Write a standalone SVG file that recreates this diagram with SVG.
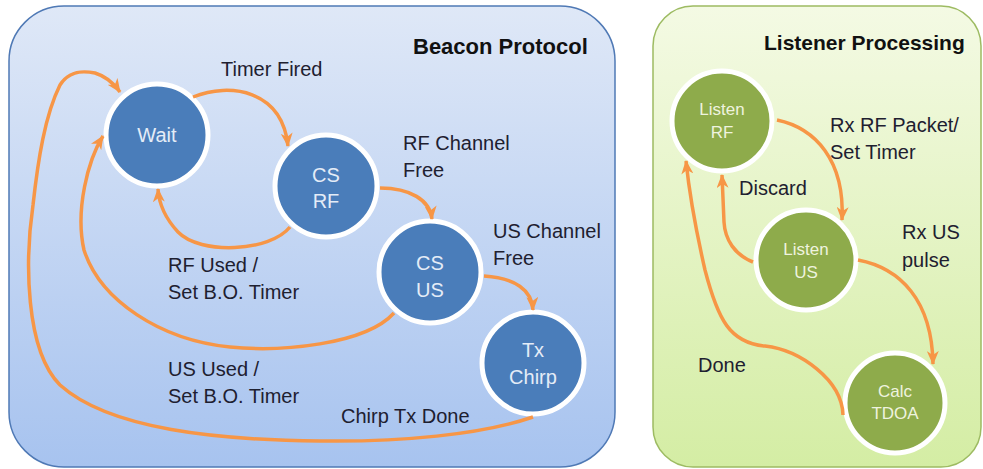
<svg xmlns="http://www.w3.org/2000/svg" width="983" height="469" viewBox="0 0 983 469">
<defs>
<linearGradient id="gBlue" x1="0" y1="0" x2="0" y2="1">
<stop offset="0" stop-color="#dfe8f7"/>
<stop offset="1" stop-color="#a7c3ef"/>
</linearGradient>
<linearGradient id="gGreen" x1="0" y1="0" x2="0" y2="1">
<stop offset="0" stop-color="#f4fae4"/>
<stop offset="1" stop-color="#d4eda4"/>
</linearGradient>
<marker id="ah" viewBox="0 0 14 12" refX="13" refY="6" markerWidth="14" markerHeight="12" orient="auto" markerUnits="userSpaceOnUse">
<path d="M0,0 L14,6 L0,12 L4,6 z" fill="#f79646"/>
</marker>
<style>
text{font-family:"Liberation Sans",Arial,sans-serif}
.title{font-size:22px;font-weight:bold;fill:#111}
.lbl{font-size:20px;fill:#1e2030}
.bn{fill:#4a7dba;stroke:#fff;stroke-width:5}
.gn{fill:#8eab4b;stroke:#fff;stroke-width:5}
.bt{font-size:20px;fill:#e4ecf7;text-anchor:middle}
.gt{font-size:17px;fill:#eef3df;text-anchor:middle}
.c{fill:none;stroke:#f79646;stroke-width:3.5;marker-end:url(#ah)}
</style>
</defs>
<g id="panel-beacon">
<rect x="9" y="6" width="606" height="461" rx="55" fill="url(#gBlue)" stroke="#4f79b5" stroke-width="1.5"/>
<text class="title" x="413" y="54">Beacon Protocol</text>
</g>
<g id="panel-listener">
<rect x="653" y="6" width="328" height="461" rx="40" fill="url(#gGreen)" stroke="#9dbb62" stroke-width="1.5"/>
<text class="title" x="764" y="50" style="font-size:21px">Listener Processing</text>
</g>
<g id="node-wait"><circle class="bn" cx="157" cy="135" r="51"/><text class="bt" x="157" y="142">Wait</text></g>
<g id="node-csrf"><circle class="bn" cx="326" cy="186" r="51"/><text class="bt" x="326" y="182">CS</text><text class="bt" x="326" y="208">RF</text></g>
<g id="node-csus"><circle class="bn" cx="430" cy="272" r="51"/><text class="bt" x="430" y="270">CS</text><text class="bt" x="430" y="297">US</text></g>
<g id="node-txchirp"><circle class="bn" cx="533" cy="363" r="51"/><text class="bt" x="533" y="357">Tx</text><text class="bt" x="533" y="384">Chirp</text></g>
<g id="node-listenrf"><circle class="gn" cx="722" cy="121" r="50"/><text class="gt" x="722" y="115">Listen</text><text class="gt" x="722" y="138">RF</text></g>
<g id="node-listenus"><circle class="gn" cx="806" cy="260" r="50"/><text class="gt" x="806" y="255">Listen</text><text class="gt" x="806" y="278">US</text></g>
<g id="node-calctdoa"><circle class="gn" cx="895" cy="403" r="50"/><text class="gt" x="895" y="397">Calc</text><text class="gt" x="895" y="419">TDOA</text></g>
<g id="connectors">
<path class="c" d="M193,97 C230,82 282,90 288,146"/>
<path class="c" d="M290,227 C270,252 200,255 178,232 C165,218 159,205 158,189"/>
<path class="c" d="M380,188 C410,188 430,200 432,219"/>
<path class="c" d="M484,276 C515,278 532,290 533,310"/>
<path class="c" d="M394,313 C365,345 280,352 230,347 C160,340 100,300 84,250 C75,210 88,160 103,136"/>
<path class="c" d="M533,417 C480,435 400,442 320,441 C220,440 110,430 60,385 C25,350 25,260 33,205 C38,160 45,115 60,85 C68,72 80,70 95,73 C105,76 113,82 120,92"/>
<path class="c" d="M777,120 C815,128 845,160 842,220"/>
<path class="c" d="M753,262 C735,255 725,240 724,222 L722,175"/>
<path class="c" d="M858,260 C900,268 932,300 933,364"/>
<path class="c" d="M843,415 C842,380 800,350 765,346 C730,343 718,320 705,270 C697,235 690,200 686,161"/>
</g>
<g id="labels">
<text class="lbl" x="221" y="76">Timer Fired</text>
<text class="lbl" x="403" y="150">RF Channel</text>
<text class="lbl" x="403" y="177">Free</text>
<text class="lbl" x="493" y="238">US Channel</text>
<text class="lbl" x="493" y="265">Free</text>
<text class="lbl" x="168" y="272">RF Used /</text>
<text class="lbl" x="168" y="299">Set B.O. Timer</text>
<text class="lbl" x="168" y="376">US Used /</text>
<text class="lbl" x="168" y="403">Set B.O. Timer</text>
<text class="lbl" x="341" y="423">Chirp Tx Done</text>
<text class="lbl" x="830" y="132">Rx RF Packet/</text>
<text class="lbl" x="830" y="159">Set Timer</text>
<text class="lbl" x="739" y="195">Discard</text>
<text class="lbl" x="902" y="239">Rx US</text>
<text class="lbl" x="902" y="267">pulse</text>
<text class="lbl" x="698" y="372">Done</text>
</g>
</svg>
